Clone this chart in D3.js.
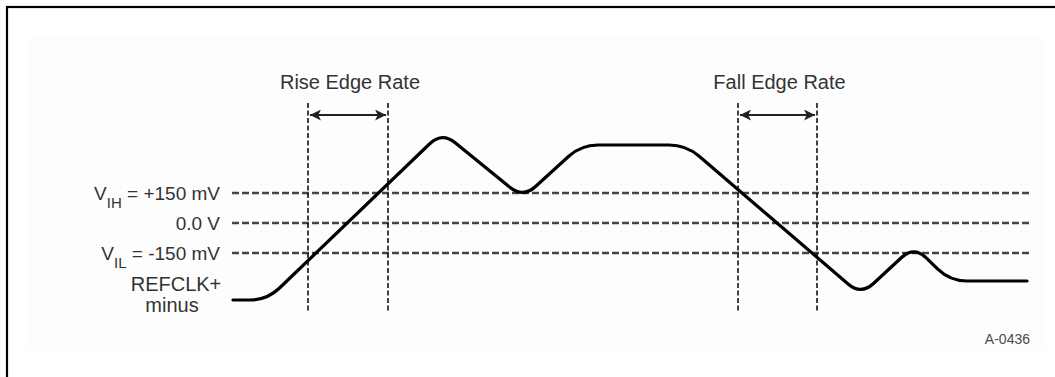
<!DOCTYPE html>
<html>
<head>
<meta charset="utf-8">
<script src="https://cdn.jsdelivr.net/npm/d3@7"></script>
<style>
  html, body { margin: 0; padding: 0; background: #fff; }
  svg { display: block; }
  text { font-family: "Liberation Sans", Arial, Helvetica, sans-serif; fill: #333; }
</style>
</head>
<body>
<svg id="chart" width="1055" height="377"></svg>
<script>
// ---- data: waveform vertices (time in arbitrary units, voltage in mV) ----
const waveT  = [0, 34, 209, 290, 348, 453, 628, 681, 717, 794];
const waveMV = [-385, -385, 455, 125, 390, 390, -360, -115, -290, -290];

const thresholdMV   = [150, 0, -150];
const thresholdMain = ["V", "0.0 V", "V"];
const thresholdSub  = ["IH", "", "IL"];
const thresholdRest = [" = +150 mV", "", " = -150 mV"];

const edgeNames  = ["Rise Edge Rate", "Fall Edge Rate"];
const edgeStartT = [75, 505];
const edgeEndT   = [155, 584];

const signalLabel = ["REFCLK+", "minus"];
const figureId = "A-0436";

// ---- scales ----
const x = d3.scaleLinear().domain([0, 794]).range([233, 1027]);
const y = d3.scaleLinear().domain([-150, 150]).range([253, 193]);

const svg = d3.select("#chart");

// frame
svg.append("rect").attr("x", 27).attr("y", 37).attr("width", 1018).attr("height", 313)
  .attr("fill", "#fdfdfd");
svg.append("rect").attr("x", 7).attr("y", 7).attr("width", 1060).attr("height", 390)
  .attr("fill", "none").attr("stroke", "#000").attr("stroke-width", 2.2);

const defs = svg.append("defs");
defs.append("marker").attr("id", "arrow")
  .attr("viewBox", "0 0 10 10").attr("refX", 10).attr("refY", 5)
  .attr("markerUnits", "userSpaceOnUse")
  .attr("markerWidth", 18).attr("markerHeight", 11)
  .attr("orient", "auto-start-reverse")
  .append("path").attr("d", "M0,0 L10,5 L0,10 L2.5,5 z").attr("fill", "#222");

// threshold dashed lines
svg.append("g").selectAll("line").data(thresholdMV).join("line")
  .attr("x1", x(-1)).attr("x2", x(797))
  .attr("y1", d => y(d)).attr("y2", d => y(d))
  .attr("stroke", "#444").attr("stroke-width", 2.3)
  .attr("stroke-dasharray", "7,3");

// threshold labels
thresholdMV.forEach((v, i) => {
  const t = svg.append("text")
    .attr("x", 220).attr("y", y(v) + 6.5)
    .attr("text-anchor", "end")
    .style("font-size", "19px");
  t.append("tspan").text(thresholdMain[i]);
  if (thresholdSub[i]) {
    t.append("tspan").attr("dy", 8).style("font-size", "15px").text(thresholdSub[i]);
    t.append("tspan").attr("dy", -8).text(thresholdRest[i]);
  }
});

// edge rate markers
edgeNames.forEach((name, i) => {
  const g = svg.append("g");
  [edgeStartT[i], edgeEndT[i]].forEach(t => {
    g.append("line")
      .attr("x1", x(t)).attr("x2", x(t))
      .attr("y1", y(600)).attr("y2", y(-450))
      .attr("stroke", "#111").attr("stroke-width", 1.6)
      .attr("stroke-dasharray", "5,2.5");
  });
  g.append("line")
    .attr("x1", x(edgeStartT[i]) + 2).attr("x2", x(edgeEndT[i]) - 2)
    .attr("y1", y(540)).attr("y2", y(540))
    .attr("stroke", "#222").attr("stroke-width", 2)
    .attr("marker-start", "url(#arrow)").attr("marker-end", "url(#arrow)");
  g.append("text")
    .attr("x", (x(edgeStartT[i]) + x(edgeEndT[i])) / 2 + 2)
    .attr("y", y(670))
    .attr("text-anchor", "middle")
    .style("font-size", "20px")
    .text(name);
});

// waveform: polyline through the scaled vertices with rounded corners
function roundedPath(pts, r) {
  let d = `M${pts[0][0]},${pts[0][1]}`;
  for (let i = 1; i < pts.length - 1; i++) {
    const [px, py] = pts[i - 1], [cx, cy] = pts[i], [nx, ny] = pts[i + 1];
    const l1 = Math.hypot(cx - px, cy - py), l2 = Math.hypot(nx - cx, ny - cy);
    const rr = Math.min(r, l1 / 2, l2 / 2);
    const ax = cx + (px - cx) * rr / l1, ay = cy + (py - cy) * rr / l1;
    const bx = cx + (nx - cx) * rr / l2, by = cy + (ny - cy) * rr / l2;
    d += `L${ax},${ay}Q${cx},${cy} ${bx},${by}`;
  }
  const last = pts[pts.length - 1];
  return d + `L${last[0]},${last[1]}`;
}
const pts = waveT.map((t, i) => [x(t), y(waveMV[i])]);
svg.append("path")
  .attr("d", roundedPath(pts, 17))
  .attr("fill", "none").attr("stroke", "#000").attr("stroke-width", 3.2)
  .attr("stroke-linejoin", "round").attr("stroke-linecap", "round");

// signal label
svg.append("text").attr("x", 176).attr("y", 291).attr("text-anchor", "middle")
  .style("font-size", "20px").text(signalLabel[0]);
svg.append("text").attr("x", 172).attr("y", 312).attr("text-anchor", "middle")
  .style("font-size", "20px").text(signalLabel[1]);

// figure id
svg.append("text").attr("x", 1030).attr("y", 344).attr("text-anchor", "end")
  .style("font-size", "14px").style("fill", "#4a4a4a").text(figureId);
</script>
</body>
</html>
